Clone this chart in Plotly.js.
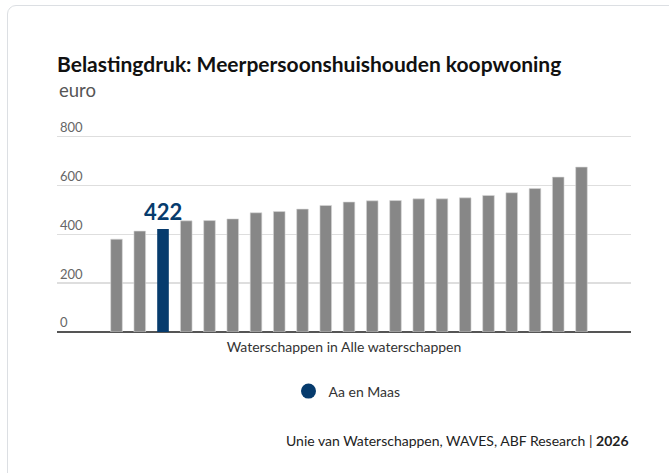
<!DOCTYPE html>
<html>
<head>
<meta charset="utf-8">
<script src="https://cdn.plot.ly/plotly-3.0.1.min.js"></script>
<style>
html,body{margin:0;padding:0;background:#fff;overflow:hidden;}
#card{position:absolute;left:7px;top:5px;width:700px;height:520px;border:1px solid #dcdfe3;border-radius:9px;box-sizing:border-box;}
#chart{position:absolute;left:0;top:0;width:669px;height:473px;}
</style>
</head>
<body>
<div id="card"></div>
<div id="chart"></div>
<script>
// Waterschappen, sorted by tax burden (rank order)
const categories = [1,2,3,4,5,6,7,8,9,10,11,12,13,14,15,16,17,18,19,20,21];
const values = [380,413,422,455,456,463,488,493,503,518,532,537,538,545,545,549,559,570,587,634,675];
const highlightIndex = 2;
const highlightName = "Aa en Maas";
const yTicks = [0,200,400,600,800];
const titleText = "Belastingdruk: Meerpersoonshuishouden koopwoning";
const subtitleText = "euro";
const xTitleText = "Waterschappen in Alle waterschappen";
const sourceText = "Unie van Waterschappen, WAVES, ABF Research | <b>2026</b>";

const FONT = "Lato, 'Source Sans Pro', 'Noto Sans', sans-serif";
const GRAY = "#878787";
const BLUE = "#063b6d";

const grayX = [], grayY = [];
categories.forEach((c,i)=>{ if(i!==highlightIndex){grayX.push(c);grayY.push(values[i]);} });

const traces = [
  {type:'bar', x:grayX, y:grayY, marker:{color:GRAY, line:{color:'#d8d8d8', width:0.6}}, width:0.5, showlegend:false, hoverinfo:'x+y'},
  {type:'bar', x:[categories[highlightIndex]], y:[values[highlightIndex]], marker:{color:BLUE}, width:0.5, showlegend:false, name:highlightName},
  {type:'scatter', mode:'markers', x:[null], y:[null], name:highlightName, marker:{color:BLUE, size:15, symbol:'circle'}, showlegend:true}
];

// pixel geometry: value 0 at y=332.5, value 800 at y=137
const yMax = 880;
const plotBottom = 332.5, pxPerUnit = (332.5-137)/800;
const plotH = yMax*pxPerUnit, plotTop = plotBottom - plotH;
const plotLeft = 57, plotRight = 631, plotW = plotRight-plotLeft;
const py = y => (plotBottom - y)/plotH;
const px = x => (x - plotLeft)/plotW;

const layout = {
  width:669, height:473,
  margin:{l:plotLeft, r:669-plotRight, t:plotTop, b:473-plotBottom},
  paper_bgcolor:'rgba(0,0,0,0)', plot_bgcolor:'rgba(0,0,0,0)',
  font:{family:FONT, color:'#333'},
  title:{text:titleText, font:{family:FONT, size:21, color:'#111', weight:700}, xref:'container', yref:'container', x:57/669, xanchor:'left', y:1-65/473, yanchor:'middle'},
  bargap:0.5,
  xaxis:{range:[categories[0]-2.56, categories[categories.length-1]+2.13], showticklabels:false, showgrid:false, zeroline:false, ticks:'', showline:false, fixedrange:true,
    title:{text:xTitleText, font:{family:FONT, size:14, color:'#333'}, standoff:10}},
  yaxis:{range:[0,yMax], tickvals:yTicks, ticktext:yTicks.map(String), ticklabelposition:'inside top', showgrid:true, gridcolor:'#dedede', gridwidth:1.5,
    zeroline:true, zerolinecolor:'#555', zerolinewidth:1.5, tickfont:{family:FONT, size:13, color:'#666'}, ticks:'', showline:false, fixedrange:true},
  showlegend:true,
  legend:{orientation:'h', x:px(347), xanchor:'center', y:py(392), yanchor:'middle', font:{family:FONT, size:14, color:'#333'}, itemwidth:30, bgcolor:'rgba(0,0,0,0)'},
  annotations:[
    {xref:'paper', yref:'paper', x:px(57), y:py(90), xanchor:'left', yanchor:'middle', text:subtitleText, showarrow:false, font:{family:FONT, size:18.5, color:'#555'}},
    {xref:'x', yref:'y', x:categories[highlightIndex], y:values[highlightIndex], yanchor:'bottom', yshift:2, text:'<b>'+values[highlightIndex]+'</b>', showarrow:false, font:{family:FONT, size:22, color:BLUE}},
    {xref:'paper', yref:'paper', x:1, y:py(441), xanchor:'right', yanchor:'middle', text:sourceText, showarrow:false, font:{family:FONT, size:14, color:'#222'}}
  ]
};

Plotly.newPlot('chart', traces, layout, {displayModeBar:false, staticPlot:true});
</script>
</body>
</html>
